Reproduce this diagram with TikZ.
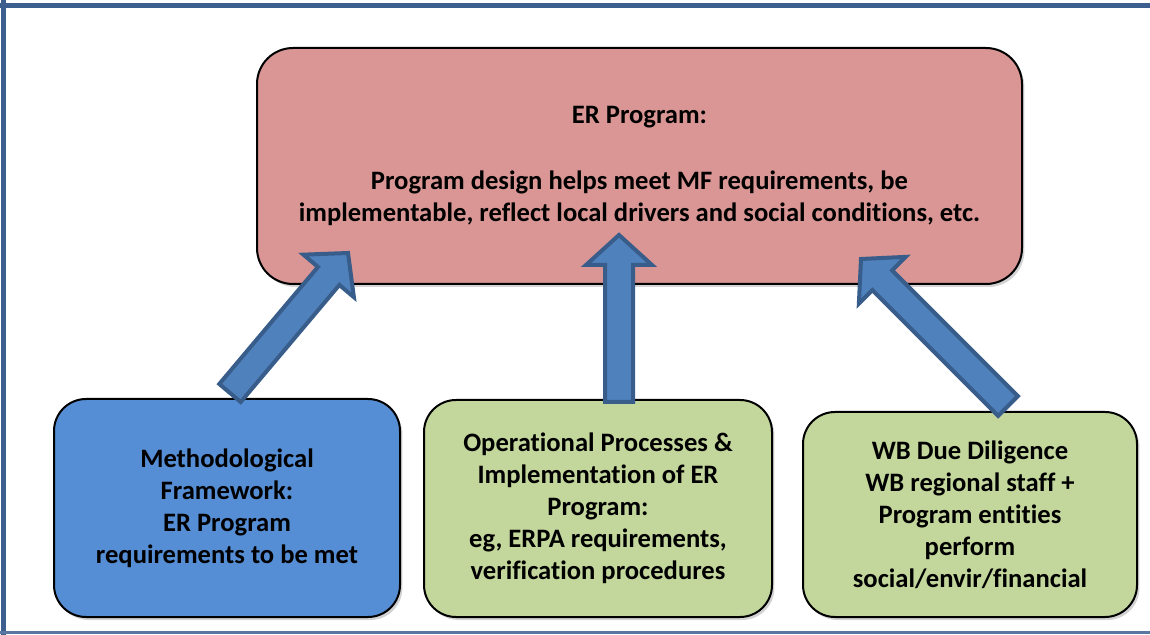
\documentclass[tikz,border=0pt]{standalone}
\usepackage{fontspec}
\setmainfont{Carlito}[Ligatures=NoCommon]
\usepackage{tikz}
\usetikzlibrary{calc,shadows}

\definecolor{progred}{HTML}{D99694}
\definecolor{mfblue}{HTML}{558ED5}
\definecolor{opgreen}{HTML}{C3D69B}
\definecolor{arrowfill}{HTML}{4F81BD}
\definecolor{arrowline}{HTML}{385D8A}
\definecolor{framecol}{HTML}{3C5F8F}

% block arrow from #1 (tail) to #2 (tip)
\newcommand{\fatarrow}[2]{%
\coordinate (#2 base) at ($(#2)!15pt!(#1)$);
\draw [arrowbody] ($(#1)!7pt!90:(#2)$) -- ($(#2 base)!7pt!90:(#2)$) -- ($(#2 base)!16.5pt!90:(#2)$) -- (#2)
  -- ($(#2 base)!16.5pt!-90:(#2)$) -- ($(#2 base)!7pt!-90:(#2)$) -- ($(#1)!7pt!-90:(#2)$) -- cycle;}

\begin{document}
\begin{tikzpicture}[x=0.5pt,y=-0.5pt]
\tikzstyle{every node}+=[inner sep=0pt,align=center,font=\fontsize{13.3}{16}\selectfont\bfseries]
\tikzstyle{box}=[draw=black,line width=1pt,drop shadow={shadow xshift=1.2pt,shadow yshift=-1.5pt,opacity=0.35}]
\tikzstyle{arrowbody}=[fill=arrowfill,draw=arrowline,line width=2pt,line join=miter]
\useasboundingbox (0,0) rectangle (1150,635);
\draw [framecol,line width=2.5pt] (0,5.5) -- (1150,5.5);
\draw [framecol,line width=2.5pt] (3.5,0) -- (3.5,635);
\draw [framecol!85,line width=1.5pt] (0,632) -- (1150,632);
\node [box,fill=progred,rounded corners=18pt,minimum width=382.5pt,minimum height=118pt] (prog) at (639.5,166)
  {ER Program:\\[17pt]Program design helps meet MF requirements, be\\implementable, reflect local drivers and social conditions, etc.};
\node [box,fill=mfblue,rounded corners=16pt,minimum width=173pt,minimum height=109pt] (mf) at (227,508)
  {Methodological\\Framework:\\ER Program\\requirements to be met};
\node [box,fill=opgreen,rounded corners=16pt,minimum width=174pt,minimum height=108.5pt] (op) at (598,508.5)
  {Operational Processes \&\\Implementation of ER\\Program:\\eg, ERPA requirements,\\verification procedures};
\node [box,fill=opgreen,rounded corners=16pt,minimum width=167pt,minimum height=102.5pt] (dd) at (970,514.5)
  {WB Due Diligence\\WB regional staff +\\Program entities\\perform\\social/envir/financial};
\coordinate (mf tail) at (230,393);
\coordinate (mf tip) at (348,253);
\coordinate (op tail) at (619,402);
\coordinate (op tip) at (619,235);
\coordinate (dd tail) at (1008,406);
\coordinate (dd tip) at (861,259);
\fatarrow{mf tail}{mf tip}
\fatarrow{op tail}{op tip}
\fatarrow{dd tail}{dd tip}
\end{tikzpicture}
\end{document}
